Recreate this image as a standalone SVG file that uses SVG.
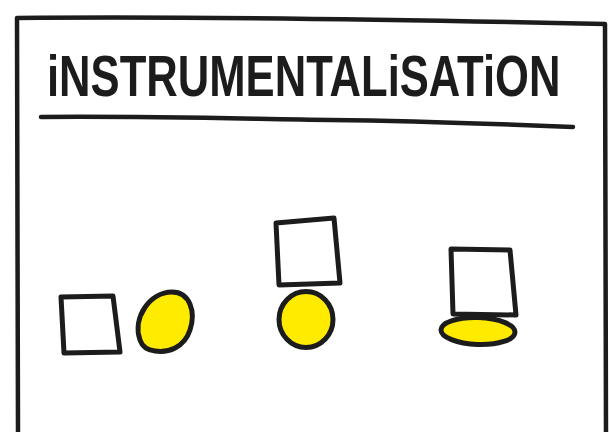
<svg xmlns="http://www.w3.org/2000/svg" width="609" height="432" viewBox="0 0 609 432">
  <style>
    .ink { fill: none; stroke: #1c1c1c; stroke-width: 4.5; stroke-linejoin: round; stroke-linecap: round; }
    .box { fill: #ffffff; stroke: #1c1c1c; stroke-width: 5; stroke-linejoin: round; stroke-linecap: round; }
    .blob { fill: #ffeb00; stroke: #1c1c1c; stroke-width: 5; stroke-linejoin: round; }
    .title { font-family: "Liberation Sans", Arial, sans-serif; font-size: 57px; font-weight: bold; fill: #1c1c1c; }
  </style>
  <rect x="0" y="0" width="609" height="432" fill="#ffffff"/>

  <g id="frame">
    <path class="ink" d="M 18,434 C 17,300 18,150 17,18 C 200,16 420,20 605,24 L 606,434"/>
  </g>

  <g id="title">
    <text class="title" transform="matrix(0.765 0 0 1 47 96)" x="0" y="0">iNSTRUMENTALiSATiON</text>
    <path class="ink" d="M 41,117 C 150,116 250,119 330,120 C 420,121 500,124 573,127" stroke-width="5"/>
  </g>

  <g id="pair1">
    <path class="box" d="M 61,297 L 113,296 L 120,352 L 64,353 Z"/>
    <path class="blob" d="M 140,340 C 132,318 150,292 172,292 C 190,292 196,312 190,330 C 184,348 168,353 155,351 C 146,350 142,346 140,340 Z"/>
  </g>

  <g id="pair2">
    <path class="box" d="M 276,223 L 334,218 L 340,283 L 279,285 Z"/>
    <ellipse class="blob" cx="306" cy="319.5" rx="27" ry="28"/>
  </g>

  <g id="pair3">
    <path class="box" d="M 451,249 L 510,250 L 516,315 L 453,314 Z"/>
    <ellipse class="blob" cx="478" cy="331" rx="37" ry="13.5" transform="rotate(2 478 331)"/>
  </g>
</svg>
